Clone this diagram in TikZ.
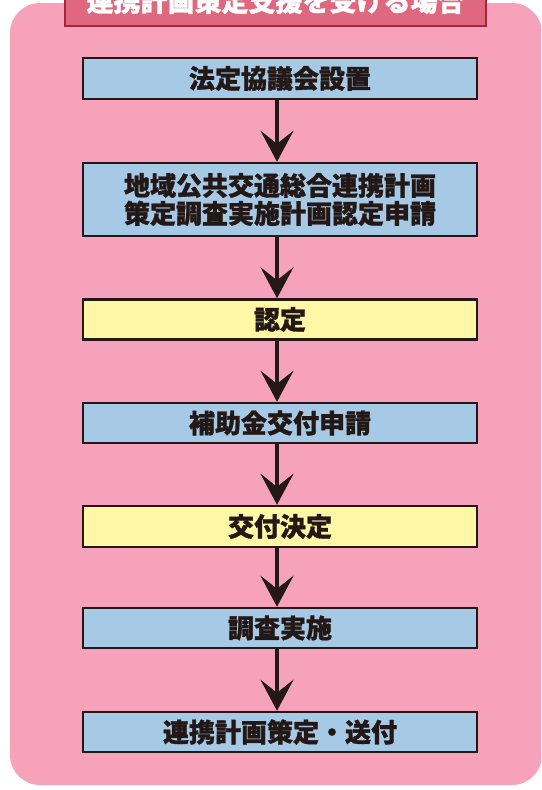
\documentclass[tikz,border=0pt]{standalone}
\usepackage{fontspec}
\newfontfamily\jp{Noto Sans CJK JP}[BoldFeatures={FakeBold=1.2}]
\usetikzlibrary{arrows.meta}
\definecolor{bgpink}{RGB}{247,162,187}
\definecolor{titlefill}{RGB}{224,104,126}
\definecolor{titleborder}{RGB}{168,38,60}
\definecolor{boxblue}{RGB}{166,201,230}
\definecolor{boxyellow}{RGB}{255,246,166}
\definecolor{arrowc}{RGB}{35,24,21}
\tikzset{
  flowbox/.style={draw=arrowc, line width=2.5pt, minimum width=394pt, inner sep=0pt,
    font=\jp\bfseries\fontsize{26}{28}\selectfont, align=center, text=arrowc},
  bluebox/.style={flowbox, fill=boxblue},
  yellowbox/.style={flowbox, fill=boxyellow},
  flowarrow/.style={draw=arrowc, line width=4pt,
    -{Stealth[width=33pt,length=31pt,inset=13pt]}}
}
\begin{document}
\begin{tikzpicture}[x=1pt,y=-1pt]
\useasboundingbox (0,0) rectangle (541,790);
\clip (0,0) rectangle (541,790);
\fill[bgpink, rounded corners=30pt] (10,3) rectangle (542,785);
\node[draw=titleborder, fill=titlefill, line width=2.5pt, minimum width=421pt,
  minimum height=50pt, inner sep=0pt, text=white,
  font=\jp\bfseries\fontsize{27}{29}\selectfont] (title) at (275.5,1)
  {連携計画策定支援を受ける場合};
\node[bluebox, minimum height=41pt] (b1) at (280,78.5) {法定協議会設置};
\node[bluebox, minimum height=73pt] (b2) at (280,199.5) {地域公共交通総合連携計画\\策定調査実施計画認定申請};
\node[yellowbox, minimum height=40pt] (b3) at (280,319.5) {認定};
\node[bluebox, minimum height=40pt] (b4) at (280,423) {補助金交付申請};
\node[yellowbox, minimum height=41pt] (b5) at (280,526.5) {交付決定};
\node[bluebox, minimum height=40pt] (b6) at (280,628) {調査実施};
\node[bluebox, minimum height=40pt] (b7) at (280,732) {連携計画策定・送付};
\foreach \a/\b in {b1/b2,b2/b3,b3/b4,b4/b5,b5/b6,b6/b7}
  \draw[flowarrow] ([xshift=-3pt]\a.south) -- ([xshift=-3pt]\b.north);
\end{tikzpicture}
\end{document}
